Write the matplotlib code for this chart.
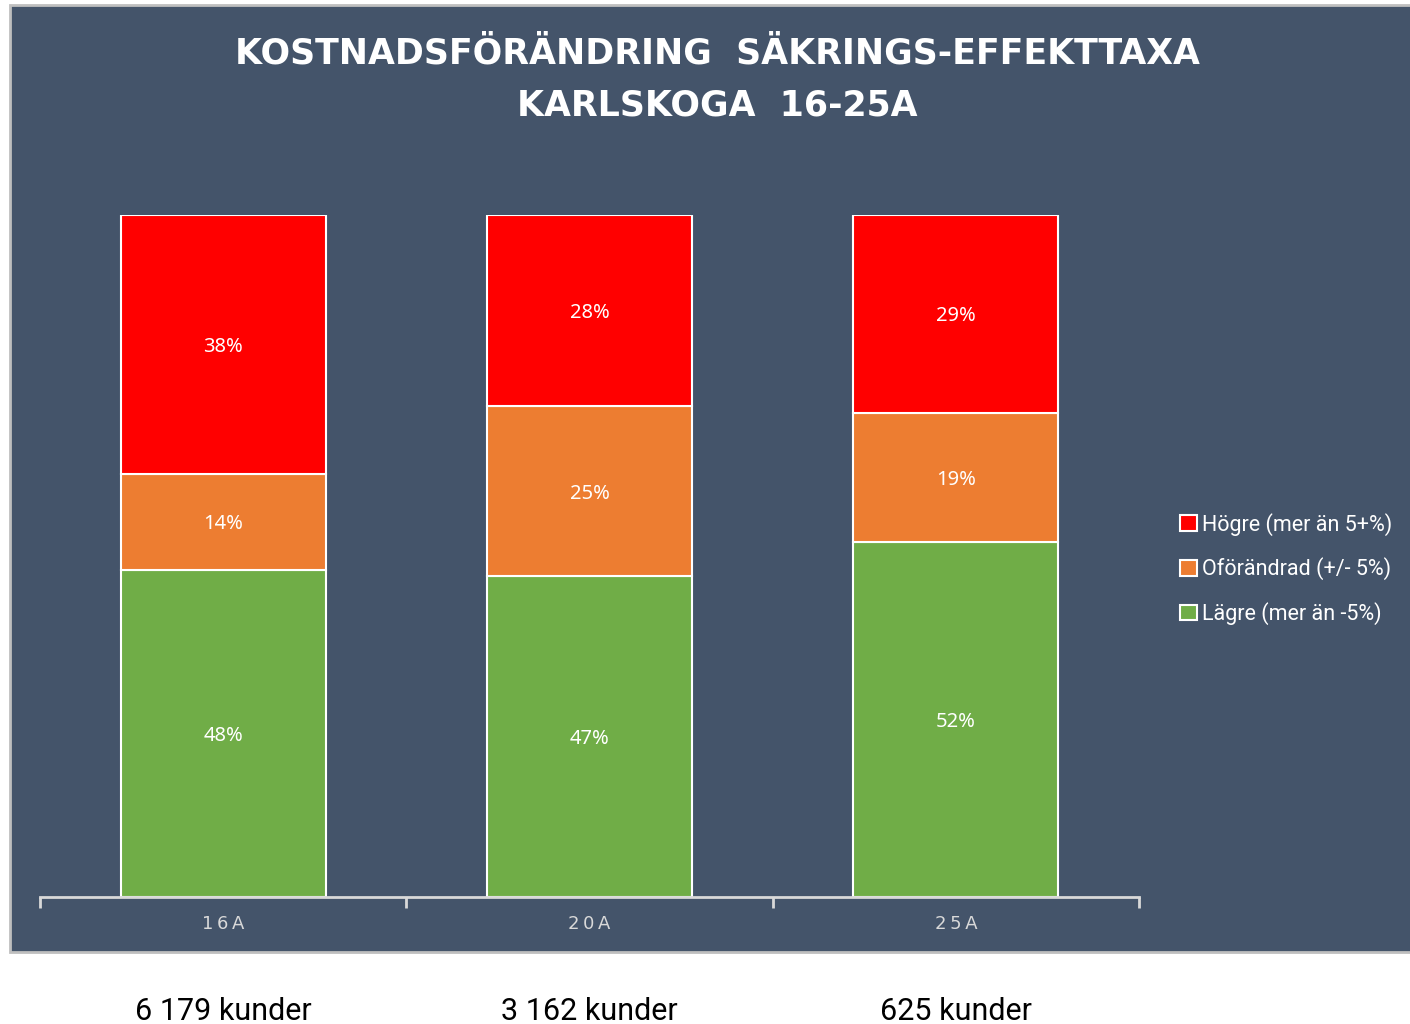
import matplotlib.pyplot as plt
from matplotlib.patches import Rectangle
from matplotlib.transforms import blended_transform_factory
import numpy as np

# Data
categories = ["16A", "20A", "25A"]
lagre = [48, 47, 52]
oforandrad = [14, 25, 19]
hogre = [38, 28, 29]
kunder = ["6 179 kunder", "3 162 kunder", "625 kunder"]

series = [
    ("Lägre (mer än -5%)", lagre, "#70AD47"),
    ("Oförändrad (+/- 5%)", oforandrad, "#ED7D31"),
    ("Högre (mer än 5+%)", hogre, "#FF0000"),
]

bg = "#44546A"
W, H = 1410, 1024
fig = plt.figure(figsize=(W / 100, H / 100), dpi=100)
fig.patch.set_facecolor("white")

# dark panel behind the chart
panel = Rectangle((10 / W, 1 - 952 / H), 1.0, (952 - 5) / H, transform=fig.transFigure,
                  facecolor=bg, edgecolor="#BFBFBF", linewidth=2, zorder=-10)
fig.patches.append(panel)

ax = fig.add_axes([40 / W, 1 - 897 / H, 1099 / W, 682 / H])
ax.set_facecolor("none")

x = np.arange(len(categories))
bottom = np.zeros(len(categories))
handles = []
for name, vals, color in series:
    vals = np.array(vals, dtype=float)
    b = ax.bar(x, vals, 0.56, bottom=bottom, color=color, edgecolor="white",
               linewidth=1.5, label=name)
    for xi, v, bt in zip(x, vals, bottom):
        ax.text(xi, bt + v / 2, f"{int(v)}%", ha="center", va="center_baseline",
                color="white", fontsize=14.5, family="Noto Sans")
    bottom += vals
    handles.append(b)

ax.set_xlim(-0.5, len(categories) - 0.5)
ax.set_ylim(0, 100)
ax.set_yticks([])
for s in ["top", "right", "left"]:
    ax.spines[s].set_visible(False)
ax.spines["bottom"].set_color("#D9D9D9")
ax.spines["bottom"].set_linewidth(2)
ax.set_xticks(np.arange(len(categories) + 1) - 0.5, minor=False)
ax.set_xticklabels([])
ax.tick_params(axis="x", length=8, width=2, color="#D9D9D9", direction="out")
for xi, c in zip(x, categories):
    ax.text(xi, -4, "\u2009".join(c), ha="center", va="center", color="#D9D9D9",
            fontsize=13, family="DejaVu Sans")

# customer counts below the panel
trans = blended_transform_factory(ax.transData, fig.transFigure)
for xi, k in zip(x, kunder):
    ax.text(xi, 1 - 1012 / H, k, transform=trans, ha="center", va="center",
            color="black", fontsize=22, family="Roboto")

fig.text(717 / W, 1 - 53 / H, "KOSTNADSFÖRÄNDRING  SÄKRINGS-EFFEKTTAXA",
         ha="center", va="center", color="white", fontsize=25,
         fontweight="bold", family="DejaVu Sans")
fig.text(717 / W, 1 - 105 / H, "KARLSKOGA  16-25A",
         ha="center", va="center", color="white", fontsize=25,
         fontweight="bold", family="DejaVu Sans")

leg = fig.legend(handles=handles[::-1], loc="center left",
                 bbox_to_anchor=(1161 / W, 1 - 569 / H), frameon=False,
                 labelcolor="white", handlelength=0.75,
                 handleheight=0.75, handletextpad=0.25, labelspacing=1.0,
                 prop={"family": "Roboto", "size": 15.5})

fig.savefig("out.png", dpi=100)
